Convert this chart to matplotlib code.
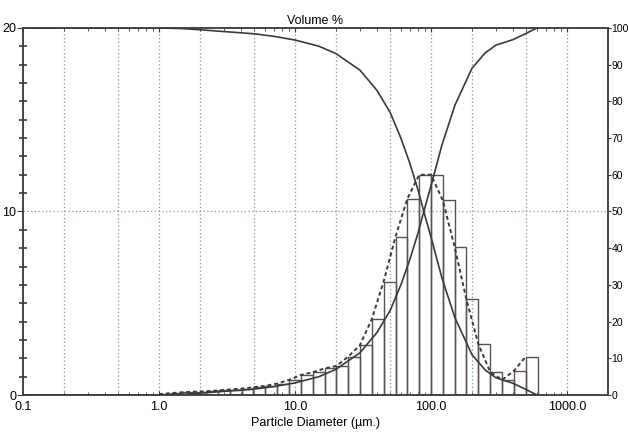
import numpy as np
import matplotlib
matplotlib.use('Agg')
import matplotlib.pyplot as plt
from matplotlib.ticker import FixedLocator, FixedFormatter, LogLocator, NullFormatter

plt.rcParams['font.family'] = ['Liberation Sans Narrow', 'Liberation Sans', 'DejaVu Sans']

# ---- data ----
bin_edges_um = [1.0, 1.22, 1.48, 1.81, 2.22, 2.71, 3.31, 4.05, 4.94, 6.04, 7.38,
                9.02, 11.0, 13.5, 16.5, 20.1, 24.6, 30.0, 36.7, 44.8, 54.8, 67.0,
                81.8, 100, 122, 149, 182, 223, 272, 333, 407, 497, 608]
volume_pct = [0.05, 0.10, 0.15, 0.18, 0.20, 0.25, 0.30, 0.35, 0.42, 0.50, 0.62,
              0.82, 1.09, 1.24, 1.45, 1.58, 2.09, 2.72, 4.14, 6.18, 8.63, 10.7,
              12.0, 12.0, 10.6, 8.08, 5.21, 2.76, 1.27, 0.82, 1.32, 2.09]
cum_sizes_um = [0.1, 1.0, 1.5, 2, 3, 5, 7, 10, 15, 20, 30, 40, 50, 60, 70, 80,
                90, 100, 120, 150, 200, 250, 300, 400, 500, 600]
cum_undersize_pct = [0, 0, 0.2, 0.5, 1.0, 1.6, 2.3, 3.3, 5.0, 7.0, 11.5, 17, 23,
                     30, 37, 44, 51, 57, 68, 79, 89, 93.2, 95.3, 96.8, 98.5, 100]
x_tick_values = [0.1, 1.0, 10.0, 100.0, 1000.0]
x_tick_labels = ['0.1', '1.0', '10.0', '100.0', '1000.0']
grid_x = [0.2, 0.5, 1, 2, 5, 10, 20, 50, 100, 200, 500, 1000]
left_ticks = [0, 10, 20]
right_ticks = list(range(0, 101, 10))
title_text = 'Volume %'
xlabel_text = 'Particle Diameter (µm.)'

edges = np.array(bin_edges_um)
vals = np.array(volume_pct)
cum_x = np.array(cum_sizes_um)
cum_under = np.array(cum_undersize_pct, dtype=float)
cum_over = 100 - cum_under

fig = plt.figure(figsize=(6.29, 4.36), dpi=100)
ax = fig.add_axes([0.0366, 0.094, 0.93, 0.842])
ax.set_xscale('log')
ax.set_xlim(0.1, 2000)
ax.set_ylim(0, 20)

ink = '#3a3a3a'
gridc = '#7d8fc4'

for gx in grid_x:
    ax.axvline(gx, color=gridc, ls=(0, (1, 2)), lw=0.9, zorder=0)
ax.axhline(10, color=gridc, ls=(0, (1, 2)), lw=0.9, zorder=0)

ax.bar(edges[:-1], vals, width=np.diff(edges), align='edge', fill=False,
       edgecolor='#5e5050', linewidth=1.0, zorder=2)
ax.plot(edges[:-1], vals, color=ink, lw=1.4, ls=(0, (2, 1.5)), zorder=3)

ax2 = ax.twinx()
ax2.set_ylim(0, 100)
ax2.plot(cum_x, cum_under, color=ink, lw=1.2, zorder=3)
ax2.plot(cum_x, cum_over, color=ink, lw=1.2, zorder=3)

ax.xaxis.set_major_locator(FixedLocator(x_tick_values))
ax.xaxis.set_major_formatter(FixedFormatter(x_tick_labels))
ax.xaxis.set_minor_locator(LogLocator(base=10, subs=np.arange(2, 10), numticks=20))
ax.xaxis.set_minor_formatter(NullFormatter())
ax.tick_params(axis='x', which='major', direction='in', length=3, pad=4,
               labelsize=9, top=True, color=ink)
ax.tick_params(axis='x', which='minor', direction='in', length=2.5, top=True, color=ink)

ax.yaxis.set_major_locator(FixedLocator(left_ticks))
ax.yaxis.set_minor_locator(FixedLocator(range(0, 21)))
ax.tick_params(axis='y', which='major', direction='out', length=4, pad=1,
               labelsize=9, color=ink)
ax.tick_params(axis='y', which='minor', direction='inout', length=6, width=1.2, color=ink)

ax2.yaxis.set_major_locator(FixedLocator(right_ticks))
ax2.tick_params(axis='y', which='major', direction='out', length=2, pad=0.5,
                labelsize=7.5, color=ink)

for a in (ax, ax2):
    for s in a.spines.values():
        s.set_color('#404040')
        s.set_linewidth(1.1)

ax.set_title(title_text, fontsize=9, pad=3)
ax.set_xlabel(xlabel_text, fontsize=9, labelpad=3)

fig.savefig('out.png', dpi=100)
